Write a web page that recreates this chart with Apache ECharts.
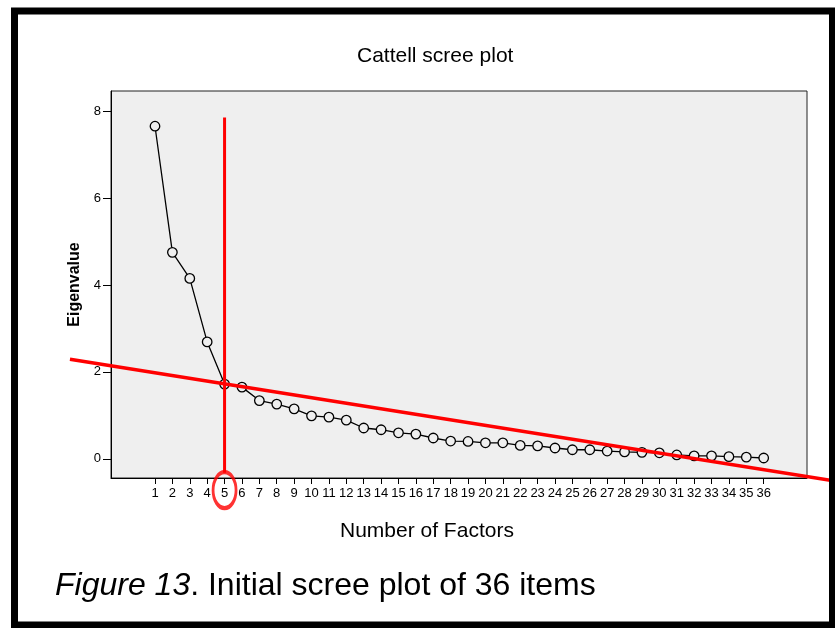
<!DOCTYPE html>
<html>
<head>
<meta charset="utf-8">
<script src="https://cdn.jsdelivr.net/npm/echarts@6/dist/echarts.min.js"></script>
<style>
html,body{margin:0;padding:0;background:#fff;}
#chart{width:835px;height:628px;}
</style>
</head>
<body>
<div id="chart"></div>
<script>
// ---- data ----
var factors = [1,2,3,4,5,6,7,8,9,10,11,12,13,14,15,16,17,18,19,20,21,22,23,24,25,26,27,28,29,30,31,32,33,34,35,36];
var eigenvalues = [7.65,4.75,4.15,2.69,1.72,1.65,1.34,1.26,1.15,0.99,0.96,0.89,0.71,0.67,0.60,0.57,0.48,0.41,0.40,0.37,0.37,0.31,0.30,0.25,0.21,0.21,0.18,0.16,0.15,0.14,0.09,0.07,0.07,0.05,0.04,0.02];
var yTicks = [0,2,4,6,8];
// annotation (hand-drawn red) lines, in data units
var trendLine = [[-3.89,2.29],[40.1,-0.51]];
var cutLine = [[5,7.85],[5,-0.32]];
var cutMarker = [[5,-0.72]];

var titleText = 'Cattell scree plot';
var xName = 'Number of Factors';
var yName = 'Eigenvalue';
var caption = '{i|Figure 13}. Initial scree plot of 36 items';

var font = '"Liberation Sans", Arial, sans-serif';
var chart = echarts.init(document.getElementById('chart'), null, {renderer:'canvas'});

var option = {
  animation:false,
  backgroundColor:'#fff',
  textStyle:{fontFamily:font},
  title:[
    {text:titleText, left:352, top:41, textStyle:{fontFamily:font, fontSize:21, fontWeight:'normal', color:'#000'}},
    {text:xName, left:335, top:516, textStyle:{fontFamily:font, fontSize:21, fontWeight:'normal', color:'#000'}},
    {text:caption, left:50, top:565,
     textStyle:{fontFamily:font, fontSize:32, fontWeight:'normal', color:'#000',
       rich:{i:{fontFamily:font, fontSize:32, fontStyle:'italic', color:'#000'}}}}
  ],
  grid:{left:111, top:91, width:696, height:387, show:true, backgroundColor:'#efefef', borderColor:'#222', borderWidth:1},
  xAxis:{
    type:'value', min:-1.53, max:38.49,
    axisLine:{show:true, onZero:false, lineStyle:{color:'#000', width:1}},
    axisTick:{show:true, length:6, inside:false, customValues:factors, lineStyle:{color:'#000'}},
    axisLabel:{customValues:factors, margin:9, fontSize:13, color:'#000', fontFamily:font},
    splitLine:{show:false}
  },
  yAxis:{
    type:'value', min:-0.44, max:8.46,
    name:yName, nameLocation:'middle', nameGap:26, nameRotate:90,
    nameTextStyle:{fontFamily:font, fontSize:16, fontWeight:'bold', color:'#000'},
    axisLine:{show:true, onZero:false, lineStyle:{color:'#000', width:1}},
    axisTick:{show:true, length:8, customValues:yTicks, lineStyle:{color:'#000'}},
    axisLabel:{customValues:yTicks, margin:10, fontSize:13, color:'#000', fontFamily:font},
    splitLine:{show:false}
  },
  series:[
    {
      type:'line', name:'Eigenvalue',
      data:factors.map(function(f,i){return [f, eigenvalues[i]];}),
      symbol:'circle', symbolSize:9.5, showAllSymbol:true,
      lineStyle:{color:'#000', width:1.3},
      itemStyle:{color:'#efefef', borderColor:'#000', borderWidth:1.3},
      z:2
    },
    {
      type:'line', data:cutLine, clip:false, showSymbol:false, symbol:'none',
      lineStyle:{color:'#ff0000', width:3}, z:5, silent:true
    },
    {
      type:'scatter', data:cutMarker, clip:false, symbol:'circle', symbolSize:[23,36],
      itemStyle:{color:'rgba(0,0,0,0)', borderColor:'#ff0000', borderWidth:3.5}, z:5, silent:true
    }
  ]
};
chart.setOption(option);

// red trend line drawn through the chart's own scales, extending beyond the plot area
var trendPts = trendLine.map(function(p){ return chart.convertToPixel({gridIndex:0}, p); });
chart.setOption({
  graphic:[
    {type:'polyline', shape:{points:trendPts}, style:{stroke:'#ff0000', lineWidth:3.5, fill:null}, z:50, silent:true},
    {type:'rect', shape:{x:14.5, y:11, width:818, height:614}, style:{fill:null, stroke:'#000', lineWidth:7}, z:100, silent:true}
  ]
});
</script>
</body>
</html>
